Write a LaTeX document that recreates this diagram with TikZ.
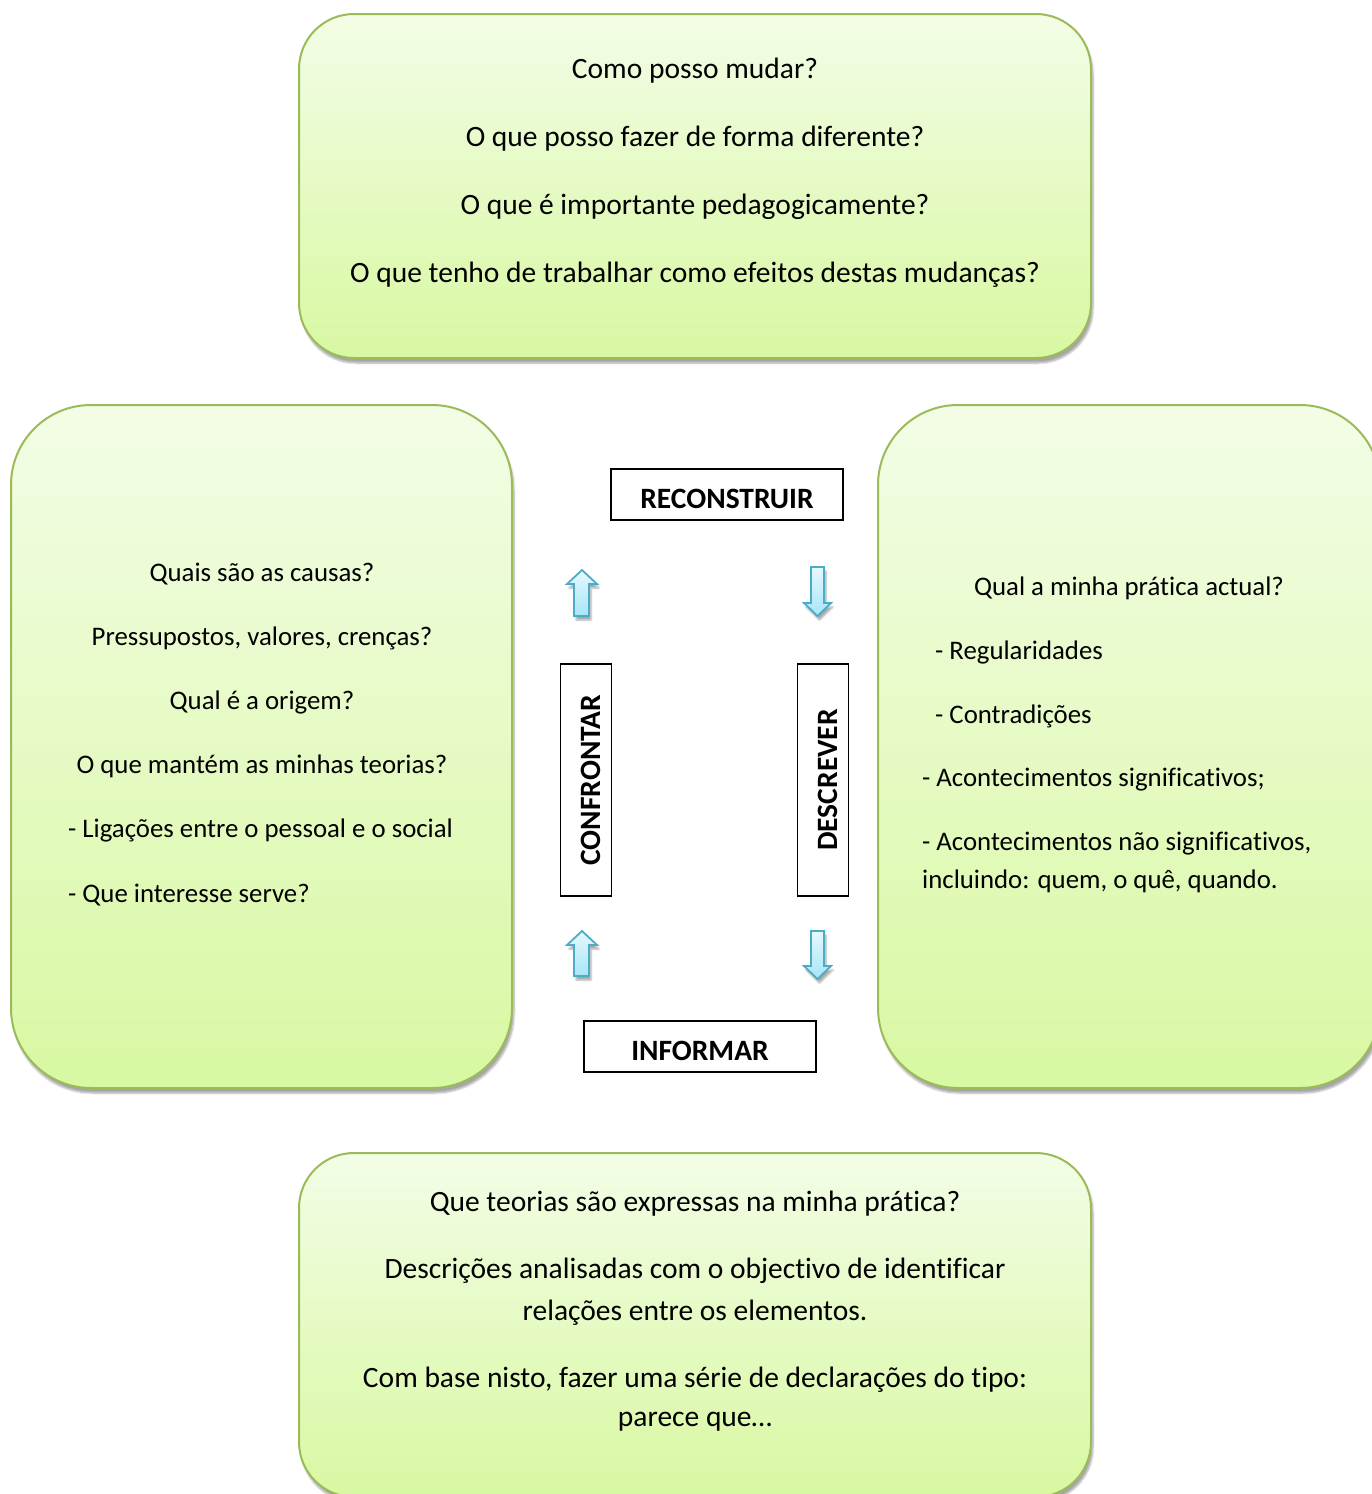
\documentclass[tikz,border=0pt]{standalone}
\usepackage{fontspec}
\setmainfont{Carlito}[Ligatures={NoCommon}]
\usetikzlibrary{shadows,shadows.blur}
\definecolor{boxborder}{HTML}{9BBB59}
\definecolor{boxtop}{HTML}{F3FDE6}
\definecolor{boxbot}{HTML}{D8F8A2}
\definecolor{arrborder}{HTML}{4BACC6}
\definecolor{arrtop}{HTML}{E6F8FE}
\definecolor{arrbot}{HTML}{A6E6F8}
\tikzset{
  gbox/.style={draw=boxborder, line width=2pt, top color=boxtop, bottom color=boxbot,
    minimum width=#1, inner sep=0pt, blur shadow={shadow xshift=2pt, shadow yshift=-5pt, shadow blur steps=6, shadow opacity=35}},
  txt/.style={font=\fontsize{29.5}{35}\selectfont, inner sep=0pt},
  stxt/.style={font=\fontsize{26.8}{32}\selectfont, inner sep=0pt},
  lbl/.style={draw=black, line width=1.2pt, fill=white, font=\fontsize{29.5}{35}\selectfont\bfseries, inner sep=0pt,
    text height=28pt, text depth=0pt, minimum width=232pt, minimum height=51pt},
  blkarrow/.style={draw=arrborder, line width=1.8pt, top color=arrtop, bottom color=arrbot, line join=miter,
    blur shadow={shadow xshift=2pt, shadow yshift=-4pt, shadow blur steps=4, shadow opacity=35}},
}
\begin{document}
\begin{tikzpicture}[x=1pt,y=-1pt]
\useasboundingbox (0,0) rectangle (1371,1494);
% boxes
\node[gbox=792pt, minimum height=344pt, rounded corners=55pt] (top) at (695,186) {};
\node[gbox=501pt, minimum height=683pt, rounded corners=80pt] (left) at (261.5,746.5) {};
\node[gbox=502pt, minimum height=683pt, rounded corners=80pt] (right) at (1129,746.5) {};
\node[gbox=792pt, minimum height=344pt, rounded corners=55pt] (bottom) at (695,1325) {};
\useasboundingbox (0,0) rectangle (1371,1494);
% top text
\node[txt] (t1) at (695,71) {Como posso mudar?};
\node[txt] (t2) at (695,139) {O que posso fazer de forma diferente?};
\node[txt] (t3) at (695,207) {O que é importante pedagogicamente?};
\node[txt] (t4) at (695,275) {O que tenho de trabalhar como efeitos destas mudanças?};
% left text
\node[stxt] (l1) at (262,574) {Quais são as causas?};
\node[stxt] (l2) at (262,638) {Pressupostos, valores, crenças?};
\node[stxt] (l3) at (262,702) {Qual é a origem?};
\node[stxt] (l4) at (262,766) {O que mantém as minhas teorias?};
\node[stxt, anchor=west] (l5) at (68,830) {- Ligações entre o pessoal e o social};
\node[stxt, anchor=west] (l6) at (68,895) {- Que interesse serve?};
% right text
\node[stxt] (r1) at (1129,588) {Qual a minha prática actual?};
\node[stxt, anchor=west] (r2) at (935,652) {- Regularidades};
\node[stxt, anchor=west] (r3) at (935,716) {- Contradições};
\node[stxt, anchor=west] (r4) at (922,780) {- Acontecimentos significativos;};
\node[stxt, anchor=west] (r5) at (922,844) {- Acontecimentos não significativos,};
\node[stxt, anchor=west] (r6) at (922,881) {incluindo: quem, o quê, quando.};
% bottom text
\node[txt] (b1) at (695,1204) {Que teorias são expressas na minha prática?};
\node[txt] (b2) at (695,1271) {Descrições analisadas com o objectivo de identificar};
\node[txt] (b3) at (695,1313) {relações entre os elementos.};
\node[txt] (b4) at (695,1380) {Com base nisto, fazer uma série de declarações do tipo:};
\node[txt] (b5) at (695,1422) {parece que…};
% labels
\node[lbl] (reconstruir) at (727,494.5) {RECONSTRUIR};
\node[lbl] (informar) at (700,1046.5) {INFORMAR};
\node[lbl, rotate=90] (confrontar) at (586,780) {CONFRONTAR};
\node[lbl, rotate=90] (descrever) at (823,780) {DESCREVER};
% block arrows
\path[blkarrow] (582,570) -- (597,584) -- (589,584) -- (589,616) -- (574,616) -- (574,584) -- (567,584) -- cycle;
\path[blkarrow] (811,567) -- (824,567) -- (824,603) -- (831,603) -- (817.5,616) -- (804,603) -- (811,603) -- cycle;
\path[blkarrow] (582,931) -- (597,945) -- (589,945) -- (589,976) -- (574,976) -- (574,945) -- (567,945) -- cycle;
\path[blkarrow] (811,931) -- (824,931) -- (824,966) -- (831,966) -- (817.5,979) -- (804,966) -- (811,966) -- cycle;
\end{tikzpicture}
\end{document}
